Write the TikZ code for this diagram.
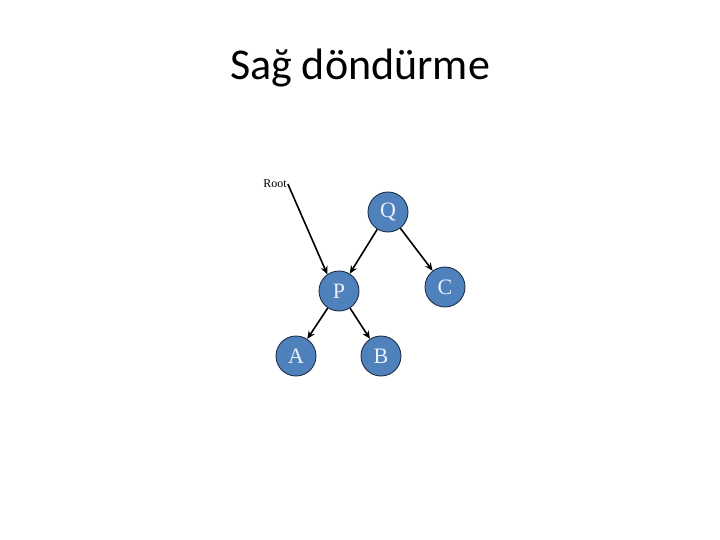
\documentclass[tikz,border=0pt]{standalone}
\usepackage{fontspec}
\setmainfont{Liberation Serif}
\newfontfamily\titlefont{Carlito}
\usetikzlibrary{arrows.meta}
\definecolor{nodeblue}{RGB}{79,129,189}
\definecolor{nodeedge}{RGB}{30,45,70}
\definecolor{nodetext}{RGB}{235,240,250}

\begin{document}
\begin{tikzpicture}[x = 1pt, y = -1pt,
	treenode/.style = {circle, draw = nodeedge, line width = 0.9pt, fill = nodeblue, text = nodetext,
		minimum size = 40pt, inner sep = 0pt, font = \fontsize{22}{22}\selectfont},
	link/.style = {-{Stealth[length = 8pt, width = 7pt]}, line width = 1.6pt}]
	\useasboundingbox (0, 0) rectangle (720, 540);
	\node at (360, 68) {\titlefont\fontsize{44}{44}\selectfont Sağ döndürme};
	\node[font = \fontsize{12}{12}\selectfont, inner sep = 1pt] (root) at (275, 184) {Root};
	\node[treenode] (q) at (388, 212) {Q};
	\node[treenode] (p) at (339, 291) {P};
	\node[treenode] (c) at (445, 287) {C};
	\node[treenode] (a) at (296, 356) {A};
	\node[treenode] (b) at (381, 356) {B};
	\draw[link] (root.east) -- (p.125);
	\draw[link] (q) -- (p);
	\draw[link] (q) -- (c);
	\draw[link] (p) -- (a);
	\draw[link] (p) -- (b);
\end{tikzpicture}
\end{document}
